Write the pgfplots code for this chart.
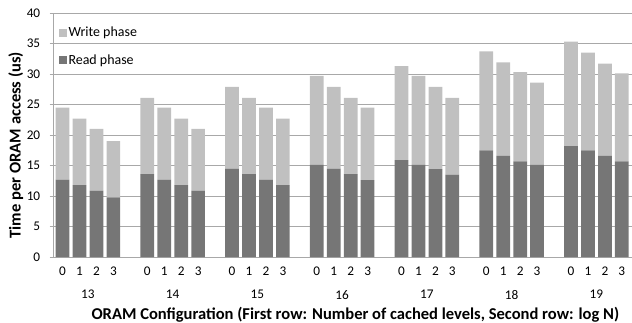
\documentclass[border=0pt]{standalone}
\usepackage{fontspec}
\setmainfont{Carlito}
\usepackage{pgfplots}
\pgfplotsset{compat=1.18}
\usepackage{pgfplotstable}
\definecolor{readc}{RGB}{118,118,118}
\definecolor{writec}{RGB}{192,192,192}
\definecolor{gridc}{RGB}{168,168,168}
\pgfplotstableread{
x read write
0 12.7 11.8
1 11.8 10.9
2 10.9 10.1
3 9.8 9.2
5 13.6 12.5
6 12.7 11.8
7 11.8 10.9
8 10.9 10.1
10 14.5 13.4
11 13.6 12.5
12 12.7 11.8
13 11.8 10.9
15 15.1 14.6
16 14.5 13.4
17 13.6 12.5
18 12.6 11.9
20 15.9 15.4
21 15.1 14.6
22 14.4 13.5
23 13.5 12.6
25 17.5 16.2
26 16.6 15.3
27 15.7 14.6
28 15.1 13.5
30 18.2 17.1
31 17.5 16.0
32 16.6 15.1
33 15.7 14.4
}\datatable
\begin{document}
\begin{tikzpicture}[x=1bp,y=1bp]
\begin{axis}[
  scale only axis,
  width=578bp, height=244bp,
  ybar stacked,
  bar width=0.81,
  xmin=-0.52, xmax=33.6,
  ymin=0, ymax=40,
  ytick={0,5,...,40},
  xtick={0,1,2,3,5,6,7,8,10,11,12,13,15,16,17,18,20,21,22,23,25,26,27,28,30,31,32,33},
  xticklabels={0,1,2,3,0,1,2,3,0,1,2,3,0,1,2,3,0,1,2,3,0,1,2,3,0,1,2,3},
  x tick style={draw=none},
  y tick style={gridc, line width=0.8pt},
  tick align=outside,
  major tick length=4bp,
  axis x line*=bottom,
  axis y line*=left,
  axis line style={gridc, line width=0.8pt},
  ymajorgrids,
  grid style={gridc, line width=0.8pt},
  tick label style={font=\fontsize{13.3}{15}\selectfont, black},
  /pgf/number format/assume math mode=true,
  xticklabel style={yshift=-2bp},
  yticklabel style={xshift=-6bp},
  ylabel={\bfseries Time per ORAM access (us)},
  ylabel style={font=\fontsize{16.6}{18}\selectfont, at={(axis description cs:0,0.5)}, anchor=center, yshift=38bp, xshift=-10bp},
  xlabel={\bfseries ORAM Configuration (First row: Number of cached levels, Second row: log N)},
  xlabel style={font=\fontsize{16.6}{18}\selectfont, at={(axis description cs:0.5,0)}, anchor=center, xshift=12.5bp, yshift=-57.5bp},
  clip=false,
  legend cell align=left,
  reverse legend,
  legend style={at={(0,1)}, anchor=north west, xshift=2bp, yshift=-10bp, draw=none, fill=none,
    font=\fontsize{14}{16}\selectfont, row sep=12bp},
  legend image code/.code={\fill[#1] (0bp,-3.8bp) rectangle (7.6bp,3.8bp);},
]
\addplot[fill=readc, draw=none] table[x=x, y=read] {\datatable};
\addlegendentry{Read phase}
\addplot[fill=writec, draw=none] table[x=x, y=write] {\datatable};
\addlegendentry{Write phase}
\foreach \g/\lab in {0/13,1/14,2/15,3/16,4/17,5/18,6/19}{
  \edef\temp{\noexpand\node[font=\noexpand\fontsize{13.3}{15}\noexpand\selectfont, anchor=center] at (axis cs:{\g*5+1.5},0) [yshift=-37.5bp] {\lab};}
  \temp
}
\end{axis}
\pgfresetboundingbox
\path (current axis.south west) ++(-53.7bp,-65bp) rectangle ([yshift=13bp]current axis.north east);
\end{tikzpicture}
\end{document}
